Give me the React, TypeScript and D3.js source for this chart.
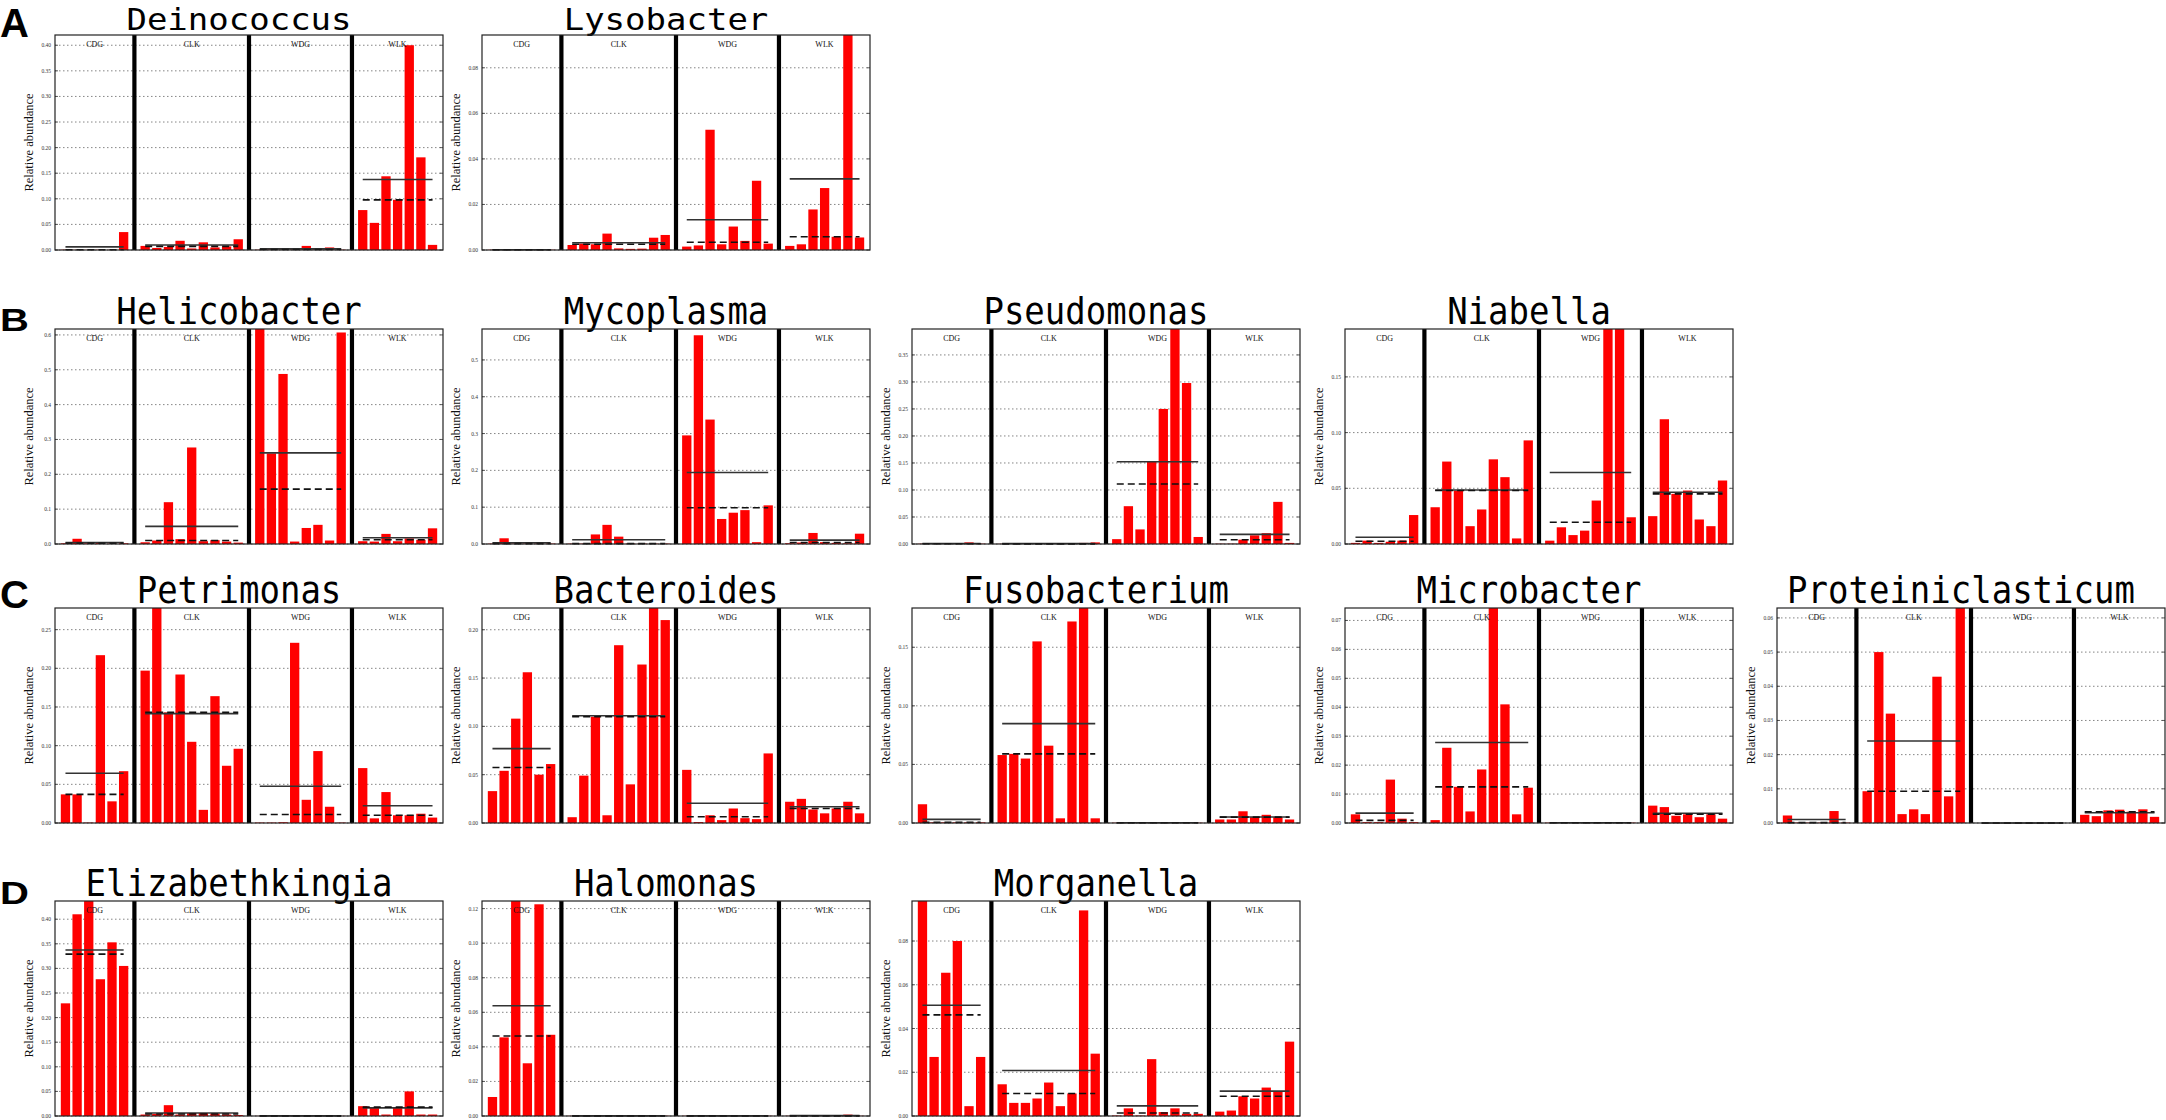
import * as d3 from 'd3'

// groups (classes) and number of samples in each
const GROUPS = ['CDG', 'CLK', 'WDG', 'WLK']
const GROUP_SIZES = [6, 9, 8, 7]

// relative abundance per sample, in group order CDG | CLK | WDG | WLK
const DEINOCOCCUS = [
  0.0005, 0.0003, 0.0003, 0.0005, 0.0003, 0.035,
  0.008, 0.004, 0.006, 0.018, 0.003, 0.015, 0.005, 0.007, 0.021,
  0.0005, 0.001, 0.0005, 0.001, 0.008, 0.001, 0.005, 0.0005,
  0.078, 0.053, 0.144, 0.098, 0.4, 0.181, 0.01,
]
const LYSOBACTER = [
  0.0001, 0.0001, 0.0001, 0.0001, 0.0003, 0.0001,
  0.0022, 0.0028, 0.0025, 0.0072, 0.0007, 0.0005, 0.0006, 0.0054, 0.0066,
  0.0015, 0.002, 0.0528, 0.0025, 0.0103, 0.004, 0.0304, 0.0028,
  0.0018, 0.0025, 0.0178, 0.0272, 0.0058, 0.158, 0.0055,
]
const HELICOBACTER = [
  0.002, 0.015, 0.002, 0.003, 0.001, 0.002,
  0.005, 0.01, 0.12, 0.014, 0.277, 0.008, 0.011, 0.007, 0.004,
  0.62, 0.26, 0.488, 0.007, 0.046, 0.055, 0.01, 0.607,
  0.008, 0.007, 0.029, 0.008, 0.016, 0.012, 0.045,
]
const MYCOPLASMA = [
  0.001, 0.0155, 0.001, 0.001, 0.001, 0.001,
  0.001, 0.001, 0.026, 0.052, 0.02, 0.001, 0.001, 0.001, 0.001,
  0.295, 0.567, 0.338, 0.068, 0.085, 0.092, 0.005, 0.105,
  0.002, 0.004, 0.03, 0.005, 0.003, 0.002, 0.028,
]
const PSEUDOMONAS = [
  0.0005, 0.0005, 0.0005, 0.0005, 0.003, 0.0005,
  0.0003, 0.0003, 0.0003, 0.001, 0.0003, 0.0003, 0.0003, 0.002, 0.003,
  0.009, 0.07, 0.027, 0.152, 0.25, 0.4, 0.298, 0.013,
  0.0005, 0.0005, 0.008, 0.016, 0.02, 0.078, 0.002,
]
const NIABELLA = [
  0.001, 0.003, 0.001, 0.002, 0.003, 0.026,
  0.033, 0.074, 0.048, 0.016, 0.031, 0.076, 0.06, 0.005, 0.093,
  0.003, 0.015, 0.008, 0.012, 0.039, 0.21, 0.203, 0.024,
  0.025, 0.112, 0.045, 0.048, 0.022, 0.016, 0.057,
]
const PETRIMONAS = [
  0.037, 0.037, 0.0005, 0.217, 0.028, 0.067,
  0.197, 0.285, 0.143, 0.192, 0.105, 0.017, 0.164, 0.074, 0.096,
  0.0005, 0.0005, 0.001, 0.233, 0.03, 0.093, 0.021, 0.0005,
  0.071, 0.006, 0.04, 0.01, 0.01, 0.012, 0.007,
]
const BACTEROIDES = [
  0.033, 0.054, 0.108, 0.156, 0.05, 0.061,
  0.006, 0.049, 0.11, 0.008, 0.184, 0.04, 0.164, 0.228, 0.21,
  0.055, 0.001, 0.008, 0.003, 0.015, 0.005, 0.004, 0.072,
  0.022, 0.025, 0.014, 0.01, 0.015, 0.022, 0.01,
]
const FUSOBACTERIUM = [
  0.016, 0.0005, 0.0005, 0.0005, 0.0005, 0.0005,
  0.058, 0.059, 0.055, 0.155, 0.066, 0.004, 0.172, 0.19, 0.004,
  0.0002, 0.0002, 0.0002, 0.0002, 0.0002, 0.0002, 0.0002, 0.0002,
  0.003, 0.003, 0.01, 0.005, 0.007, 0.005, 0.003,
]
const MICROBACTER = [
  0.003, 0.0003, 0.0003, 0.015, 0.0015, 0.0003,
  0.001, 0.026, 0.0125, 0.004, 0.0185, 0.132, 0.041, 0.003, 0.0122,
  0.0001, 0.0001, 0.0001, 0.0001, 0.0001, 0.0001, 0.0001, 0.0001,
  0.006, 0.0055, 0.0025, 0.003, 0.002, 0.003, 0.0015,
]
const PROTEINICLASTICUM = [
  0.0022, 0.0001, 0.0001, 0.0001, 0.0035, 0.0001,
  0.0093, 0.05, 0.032, 0.0026, 0.004, 0.0026, 0.0428, 0.0078, 0.065,
  0, 0, 0, 0, 0, 0, 0, 0,
  0.0024, 0.002, 0.0037, 0.0039, 0.0033, 0.004, 0.0018,
]
const ELIZABETHKINGIA = [
  0.229, 0.41, 0.45, 0.278, 0.353, 0.305,
  0.003, 0.004, 0.022, 0.003, 0.006, 0.006, 0.005, 0.003, 0.002,
  0.0002, 0.0002, 0.0002, 0.0002, 0.0002, 0.0002, 0.0002, 0.0002,
  0.02, 0.018, 0.003, 0.018, 0.05, 0.003, 0.003,
]
const HALOMONAS = [
  0.011, 0.0455, 0.126, 0.0305, 0.1225, 0.047,
  0.0001, 0.0001, 0.0001, 0.0001, 0.0001, 0.0001, 0.0001, 0.0001, 0.0001,
  0.0001, 0.0001, 0.0001, 0.0001, 0.0001, 0.0001, 0.0001, 0.0001,
  0.0001, 0.0001, 0.0001, 0.0001, 0.0001, 0.0008, 0.0001,
]
const MORGANELLA = [
  0.1, 0.027, 0.0655, 0.08, 0.0045, 0.027,
  0.0145, 0.006, 0.006, 0.008, 0.0153, 0.0045, 0.0103, 0.094, 0.0285,
  0.0002, 0.0035, 0.0002, 0.026, 0.0018, 0.0035, 0.001, 0.001,
  0.002, 0.0025, 0.009, 0.008, 0.013, 0.011, 0.034,
]

// y-axis tick values
const TICKS_40 = [0, 0.05, 0.1, 0.15, 0.2, 0.25, 0.3, 0.35, 0.4]
const TICKS_35 = [0, 0.05, 0.1, 0.15, 0.2, 0.25, 0.3, 0.35]
const TICKS_25 = [0, 0.05, 0.1, 0.15, 0.2, 0.25]
const TICKS_20 = [0, 0.05, 0.1, 0.15, 0.2]
const TICKS_15 = [0, 0.05, 0.1, 0.15]
const TICKS_P6 = [0, 0.1, 0.2, 0.3, 0.4, 0.5, 0.6]
const TICKS_P5 = [0, 0.1, 0.2, 0.3, 0.4, 0.5]
const TICKS_12 = [0, 0.02, 0.04, 0.06, 0.08, 0.1, 0.12]
const TICKS_08 = [0, 0.02, 0.04, 0.06, 0.08]
const TICKS_07 = [0, 0.01, 0.02, 0.03, 0.04, 0.05, 0.06, 0.07]
const TICKS_06 = [0, 0.01, 0.02, 0.03, 0.04, 0.05, 0.06]

interface Panel {
  name: string
  values: number[]
  yMax: number
  ticks: number[]
  fmt: string
}

const ROW_LABELS = ['A', 'B', 'C', 'D']
const ROWS: Panel[][] = [
  [
    { name: 'Deinococcus', values: DEINOCOCCUS, yMax: 0.42, ticks: TICKS_40, fmt: '.2f' },
    { name: 'Lysobacter', values: LYSOBACTER, yMax: 0.0944, ticks: TICKS_08, fmt: '.2f' },
  ],
  [
    { name: 'Helicobacter', values: HELICOBACTER, yMax: 0.617, ticks: TICKS_P6, fmt: '.1f' },
    { name: 'Mycoplasma', values: MYCOPLASMA, yMax: 0.584, ticks: TICKS_P5, fmt: '.1f' },
    { name: 'Pseudomonas', values: PSEUDOMONAS, yMax: 0.398, ticks: TICKS_35, fmt: '.2f' },
    { name: 'Niabella', values: NIABELLA, yMax: 0.193, ticks: TICKS_15, fmt: '.2f' },
  ],
  [
    { name: 'Petrimonas', values: PETRIMONAS, yMax: 0.278, ticks: TICKS_25, fmt: '.2f' },
    { name: 'Bacteroides', values: BACTEROIDES, yMax: 0.2225, ticks: TICKS_20, fmt: '.2f' },
    { name: 'Fusobacterium', values: FUSOBACTERIUM, yMax: 0.1835, ticks: TICKS_15, fmt: '.2f' },
    { name: 'Microbacter', values: MICROBACTER, yMax: 0.0743, ticks: TICKS_07, fmt: '.2f' },
    { name: 'Proteiniclasticum', values: PROTEINICLASTICUM, yMax: 0.0629, ticks: TICKS_06, fmt: '.2f' },
  ],
  [
    { name: 'Elizabethkingia', values: ELIZABETHKINGIA, yMax: 0.437, ticks: TICKS_40, fmt: '.2f' },
    { name: 'Halomonas', values: HALOMONAS, yMax: 0.1244, ticks: TICKS_12, fmt: '.2f' },
    { name: 'Morganella', values: MORGANELLA, yMax: 0.0983, ticks: TICKS_08, fmt: '.2f' },
  ],
]

// layout
const WIDTH = 2166
const HEIGHT = 1120
const COL_LEFT = [55, 482, 912, 1345, 1777]
const ROW_TOP = [35, 329, 608, 901]
const LETTER_Y = [37, 331, 608, 904]
const LETTER_SY = [1, 0.78, 0.95, 0.8]
const TITLE_SY = [0.88, 1.08, 1.08, 1.08]
const PANEL_W = 388
const PANEL_H = 215

// slot units along x: edge padding, gap between groups
const EDGE = 0.4
const GAP = 0.85
const N_SAMPLES = d3.sum(GROUP_SIZES)
const TOTAL_SLOTS = 2 * EDGE + N_SAMPLES + (GROUPS.length - 1) * GAP
const GROUP_START = GROUP_SIZES.map((_, g) => EDGE + d3.sum(GROUP_SIZES.slice(0, g)) + g * GAP)
const GROUP_OFFSET = GROUP_SIZES.map((_, g) => d3.sum(GROUP_SIZES.slice(0, g)))

const SERIF = '"Liberation Serif", "Times New Roman", serif'

function BarPanel({ panel, left, top, id, titleScale }: {
  panel: Panel; left: number; top: number; id: string; titleScale: number
}) {
  const x = d3.scaleLinear().domain([0, TOTAL_SLOTS]).range([left, left + PANEL_W])
  const y = d3.scaleLinear().domain([0, panel.yMax]).range([top + PANEL_H, top])
  const unit = x(1) - x(0)
  const fmt = d3.format(panel.fmt)
  const bottom = top + PANEL_H

  const groups = GROUPS.map((label, g) => {
    const vals = panel.values.slice(GROUP_OFFSET[g], GROUP_OFFSET[g] + GROUP_SIZES[g])
    const x0 = g === 0 ? 0 : GROUP_START[g] - GAP / 2
    const x1 = g === GROUPS.length - 1 ? TOTAL_SLOTS : GROUP_START[g + 1] - GAP / 2
    return {
      label,
      vals,
      start: GROUP_START[g],
      center: (x0 + x1) / 2,
      mean: d3.mean(vals) ?? 0,
      median: d3.median(vals) ?? 0,
    }
  })

  return (
    <g>
      <defs>
        <clipPath id={id}>
          <rect x={left} y={top} width={PANEL_W} height={PANEL_H} />
        </clipPath>
      </defs>

      {/* title */}
      <text
        transform={`translate(${left + PANEL_W / 2 - 10},${top - 5}) scale(1,${titleScale})`}
        textAnchor="middle"
        fontFamily='"DejaVu Sans Mono", monospace'
        fontSize={34}
        fill="#000"
      >
        {panel.name}
      </text>

      {/* y label */}
      <text
        transform={`translate(${left - 26},${top + PANEL_H / 2}) rotate(-90)`}
        textAnchor="middle"
        dominantBaseline="central"
        fontFamily={SERIF}
        fontSize={12.5}
        fill="#111"
      >
        Relative abundance
      </text>

      {/* grid + tick labels */}
      {panel.ticks.map(t => (
        <g key={`t-${t}`}>
          <line
            x1={left}
            x2={left + PANEL_W}
            y1={y(t)}
            y2={y(t)}
            stroke="#777"
            strokeWidth={0.9}
            strokeDasharray="1.5,2.5"
          />
          <line x1={left} x2={left + 3} y1={y(t)} y2={y(t)} stroke="#333" strokeWidth={0.8} />
          <line x1={left + PANEL_W - 3} x2={left + PANEL_W} y1={y(t)} y2={y(t)} stroke="#333" strokeWidth={0.8} />
          <text
            x={left - 4}
            y={y(t)}
            textAnchor="end"
            dominantBaseline="central"
            fontFamily={SERIF}
            fontSize={5.5}
            fill="#333"
          >
            {fmt(t)}
          </text>
        </g>
      ))}

      {/* bars */}
      <g clipPath={`url(#${id})`}>
        {groups.map((gr, g) =>
          gr.vals.map((v, j) => (
            <rect
              key={`b-${g}-${j}`}
              x={x(gr.start + j + 0.1)}
              y={y(v)}
              width={unit * 0.8}
              height={Math.max(0, bottom - y(v))}
              fill="#ff0000"
            />
          ))
        )}
      </g>

      {/* mean (solid) and median (dashed) lines */}
      {groups.map((gr, g) => (
        <g key={`m-${g}`}>
          <line
            x1={x(gr.start + 0.5)}
            x2={x(gr.start + gr.vals.length - 0.5)}
            y1={y(gr.mean)}
            y2={y(gr.mean)}
            stroke="#333"
            strokeWidth={1.6}
          />
          <line
            x1={x(gr.start + 0.5)}
            x2={x(gr.start + gr.vals.length - 0.5)}
            y1={y(gr.median)}
            y2={y(gr.median)}
            stroke="#111"
            strokeWidth={1.6}
            strokeDasharray="7,4"
          />
        </g>
      ))}

      {/* group separators */}
      {GROUP_START.slice(1).map((s, g) => (
        <line
          key={`sep-${g}`}
          x1={x(s - GAP / 2)}
          x2={x(s - GAP / 2)}
          y1={top}
          y2={bottom}
          stroke="#000"
          strokeWidth={4.2}
        />
      ))}

      {/* group labels */}
      {groups.map(gr => (
        <text
          key={`gl-${gr.label}`}
          x={x(gr.center)}
          y={top + 12}
          textAnchor="middle"
          fontFamily={SERIF}
          fontSize={8}
          fill="#111"
        >
          {gr.label}
        </text>
      ))}

      {/* frame */}
      <rect x={left} y={top} width={PANEL_W} height={PANEL_H} fill="none" stroke="#222" strokeWidth={1.2} />
    </g>
  )
}

export default function App() {
  return (
    <svg
      width={WIDTH}
      height={HEIGHT}
      viewBox={`0 0 ${WIDTH} ${HEIGHT}`}
      style={{ position: 'absolute', left: 0, top: 0, background: '#fff' }}
    >
      <rect x={0} y={0} width={WIDTH} height={HEIGHT} fill="#fff" />
      {ROWS.map((row, r) => (
        <g key={`row-${r}`}>
          <text
            transform={`translate(0,${LETTER_Y[r]}) scale(1,${LETTER_SY[r]})`}
            fontFamily='"Liberation Sans", Arial, sans-serif'
            fontWeight="bold"
            fontSize={40}
            fill="#000"
          >
            {ROW_LABELS[r]}
          </text>
          {row.map((panel, c) => (
            <BarPanel
              key={panel.name}
              panel={panel}
              left={COL_LEFT[c]}
              top={ROW_TOP[r]}
              id={`clip-${r}-${c}`}
              titleScale={TITLE_SY[r]}
            />
          ))}
        </g>
      ))}
    </svg>
  )
}
